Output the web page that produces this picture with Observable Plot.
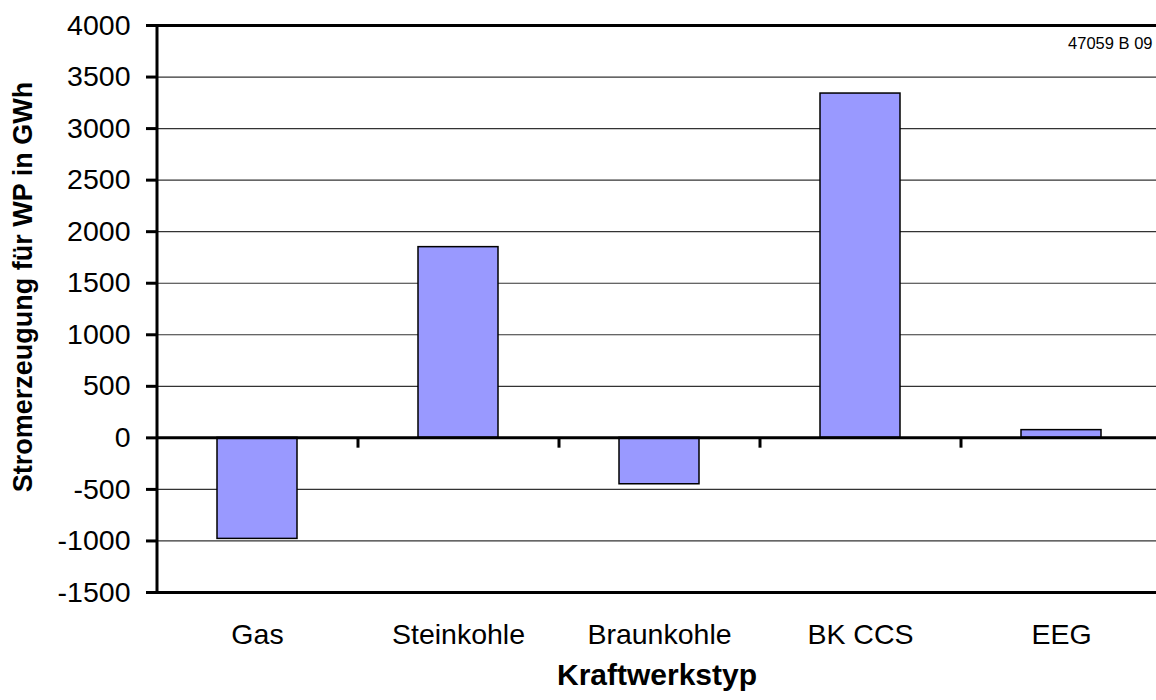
<!DOCTYPE html>
<html>
<head>
<meta charset="utf-8">
<script src="https://cdn.jsdelivr.net/npm/d3@7"></script>
<script src="https://cdn.jsdelivr.net/npm/@observablehq/plot@0.6"></script>
<style>
  html, body { margin: 0; padding: 0; background: #fff; }
  svg { display: block; }
</style>
</head>
<body>
<div id="chart"></div>
<script>
const categories = ["Gas", "Steinkohle", "Braunkohle", "BK CCS", "EEG"];
const values = [-980, 1850, -450, 3340, 75];
const yTicks = [-1500, -1000, -500, 0, 500, 1000, 1500, 2000, 2500, 3000, 3500, 4000];
const yTitle = "Stromerzeugung für WP in GWh";
const xTitle = "Kraftwerkstyp";
const note = "47059 B 09";

const data = categories.map((c, i) => ({category: c, value: values[i]}));
const font = "Liberation Sans, Arial, Helvetica, sans-serif";

const chart = Plot.plot({
  width: 1156,
  height: 700,
  marginLeft: 157,
  marginTop: 25,
  marginBottom: 108,
  marginRight: 0,
  style: {fontFamily: font, background: "#fff", color: "#000"},
  x: {domain: categories, range: [157, 1162], paddingInner: 0.6, paddingOuter: 0.3},
  y: {domain: [-1500, 4000], range: [592, 25]},
  marks: [
    Plot.ruleY(yTicks, {stroke: "#333", strokeWidth: 1.2}),
    Plot.ruleY([4000], {stroke: "#000", strokeWidth: 3}),
    Plot.ruleY([-1500], {stroke: "#000", strokeWidth: 3}),
    Plot.barY(data, {x: "category", y: "value", fill: "#9999ff", stroke: "#000", strokeWidth: 1.5}),
    Plot.ruleY([0], {stroke: "#000", strokeWidth: 3}),
    Plot.ruleX(categories.slice(1), {x: d => d, y1: 0, y2: -100, dx: -100.5, stroke: "#000", strokeWidth: 3}),
    Plot.ruleX([categories[0]], {x: d => d, y1: -1500, y2: 4000, dx: -100.5, stroke: "#000", strokeWidth: 3}),
    Plot.axisY({ticks: yTicks, tickSize: 11, tickPadding: 16, strokeWidth: 3, fontSize: 28.5, tickFormat: d => String(d), label: null}),
    Plot.axisX({tickSize: 0, tickPadding: 31, fontSize: 28.5, label: null}),
    Plot.text([yTitle], {frameAnchor: "left", textAnchor: "middle", dx: -134, dy: -22, rotate: -90, fontSize: 27, fontWeight: "bold", fill: "#000"}),
    Plot.text([xTitle], {frameAnchor: "bottom", dy: 92, fontSize: 30, fontWeight: "bold", fill: "#000"}),
    Plot.text([note], {frameAnchor: "top-right", dx: -4, dy: 11.5, textAnchor: "end", fontSize: 16.5, fill: "#000"})
  ]
});
document.getElementById("chart").appendChild(chart);
</script>
</body>
</html>
